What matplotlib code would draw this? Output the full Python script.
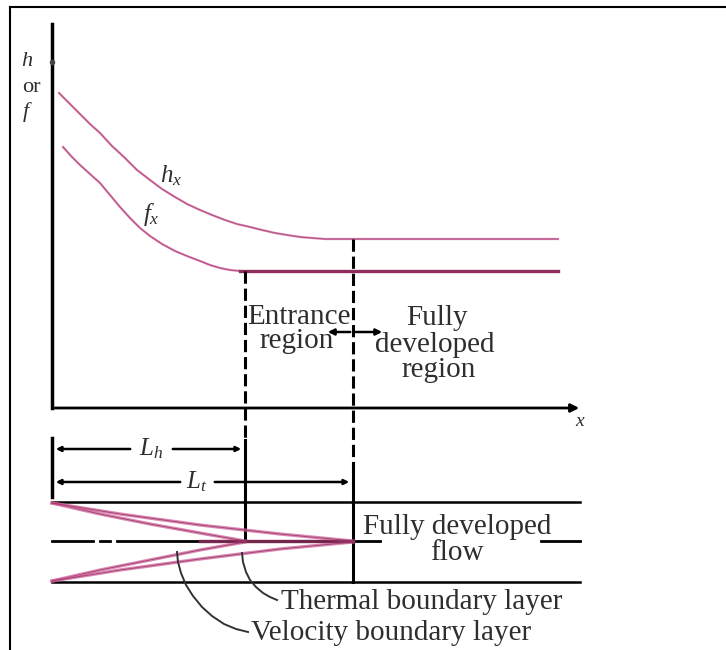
import matplotlib
matplotlib.use("Agg")
import matplotlib.pyplot as plt

plt.rcParams['font.family'] = ['Liberation Serif', 'DejaVu Serif']
plt.rcParams['mathtext.fontset'] = 'custom'
plt.rcParams['mathtext.rm'] = 'Liberation Serif'
plt.rcParams['mathtext.it'] = 'Liberation Serif:italic'

# ---- data (pixel-like diagram units) ----
hx_x = [59, 70, 80, 90, 100, 112, 125, 137, 150, 162, 175, 187, 200, 212, 225,
        237, 250, 262, 275, 287, 300, 312, 325, 558]
hx_y = [93, 104, 114, 124, 133, 146, 158, 170, 180, 189, 197, 204, 210, 215, 220,
        224, 227, 230, 233, 235, 237, 238, 239, 239]
fx_x = [63, 72, 80, 90, 100, 110, 120, 130, 140, 150, 162, 175, 187, 200, 210,
        220, 230, 240]
fx_y = [147, 157, 165, 174, 183, 195, 207, 218, 228, 236, 244, 251, 256, 261, 265,
        268, 270, 271]
fx_flat_x = [240, 558]
fx_flat_y = [271, 271]

L_h = 245          # hydrodynamic entry length position
L_t = 353          # thermal entry length position
x0 = 52            # origin x
x_end = 580
axis_y = 408
wall_top = 502
wall_bot = 582
center = 541

# boundary layer edges (velocity reaches center at L_h, thermal at L_t)
vel_top_x = [52, 100, 150, 200, 245]
vel_top_y = [503, 514, 524, 533, 541]
th_top_x = [52, 120, 200, 280, 353]
th_top_y = [503, 514, 525, 534, 541]
vel_bot_x = [52, 100, 150, 200, 245]
vel_bot_y = [581, 570, 560, 550, 542]
th_bot_x = [52, 120, 200, 280, 353]
th_bot_y = [581, 570, 559, 549, 542]

th_lead_x = [242, 243, 246, 250, 256, 263, 270, 277]
th_lead_y = [553, 562, 572, 580, 587, 593, 597, 600]
vel_lead_x = [177, 178, 181, 186, 193, 202, 212, 224, 236, 248]
vel_lead_y = [552, 562, 573, 585, 596, 607, 616, 624, 629, 632]

fig = plt.figure(figsize=(7.26, 6.5), dpi=100)
ax = fig.add_axes([0, 0, 1, 1])
ax.set_xlim(0, 726)
ax.set_ylim(650, 0)
ax.axis('off')

k = 'black'
pink = '#d0609a'
dark = '#8e2d5c'
txt = '#2e2e2e'

# frame
ax.plot([10, 10], [7, 650], color=k, lw=1.5)
ax.plot([10, 726], [7, 7], color=k, lw=1.5)

# axes
ax.plot([x0, x0], [24, axis_y], color=k, lw=2.5)
ax.annotate('', xy=(x_end + 2, axis_y), xytext=(x0, axis_y),
            arrowprops=dict(arrowstyle='-|>', color=k, lw=2, mutation_scale=12))
ax.plot([x0], [62], marker='o', ms=3, color='#444444')
ax.text(27, 62, r'$h$', fontsize=16, color=txt, ha='center', va='center')
ax.text(31, 87, 'or', fontsize=16, color=txt, ha='center', va='center')
ax.text(27, 112, r'$f$', fontsize=16, color=txt, ha='center', va='center')
ax.text(580, 422, r'$x$', fontsize=14, color=txt, ha='center', va='center')

# curves
ax.plot(hx_x, hx_y, color=pink, lw=1.6, alpha=0.8)
ax.plot(hx_x, hx_y, color=dark, lw=0.6, alpha=0.6)
ax.plot(fx_x, fx_y, color=pink, lw=1.6, alpha=0.8)
ax.plot(fx_x, fx_y, color=dark, lw=0.6, alpha=0.6)
ax.plot(fx_flat_x, fx_flat_y, color=dark, lw=2.4)
ax.text(160, 176, r'$h_x$', fontsize=18, color=txt, ha='left', va='center')
ax.text(143, 214, r'$f_x$', fontsize=18, color=txt, ha='left', va='center')

# vertical dashed/solid lines
dash = (0, (4, 1.6))
ax.plot([L_h, L_h], [fx_flat_y[0], 440], color=k, lw=2.2, linestyle=dash)
ax.plot([L_h, L_h], [440, center], color=k, lw=2.2)
ax.plot([L_t, L_t], [hx_y[-1], 470], color=k, lw=2.2, linestyle=dash)
ax.plot([L_t, L_t], [470, wall_bot], color=k, lw=2.2)

# region texts
fs = 21
ax.text(299, 317, 'Entrance', fontsize=fs, color=txt, ha='center', va='center')
ax.text(297, 341, 'region', fontsize=fs, color=txt, ha='center', va='center')
ax.text(437, 318, 'Fully', fontsize=fs, color=txt, ha='center', va='center')
ax.text(435, 345, 'developed', fontsize=fs, color=txt, ha='center', va='center')
ax.text(439, 370, 'region', fontsize=fs, color=txt, ha='center', va='center')
ax.annotate('', xy=(385, 332), xytext=(L_t, 332),
            arrowprops=dict(arrowstyle='-|>', color=k, lw=1.8, mutation_scale=9))
ax.annotate('', xy=(325, 332), xytext=(L_t, 332),
            arrowprops=dict(arrowstyle='-|>', color=k, lw=1.8, mutation_scale=9))

# dimension lines
ax.plot([x0, x0], [438, 497], color=k, lw=2.5)
ax.annotate('', xy=(x0 + 1, 449), xytext=(133, 449),
            arrowprops=dict(arrowstyle='-|>', color=k, lw=1.8, mutation_scale=7))
ax.annotate('', xy=(L_h - 1, 449), xytext=(170, 449),
            arrowprops=dict(arrowstyle='-|>', color=k, lw=1.8, mutation_scale=7))
ax.text(151, 449, r'$L_h$', fontsize=18, color=txt, ha='center', va='center')
ax.annotate('', xy=(x0 + 1, 482), xytext=(183, 482),
            arrowprops=dict(arrowstyle='-|>', color=k, lw=1.8, mutation_scale=7))
ax.annotate('', xy=(L_t - 1, 482), xytext=(212, 482),
            arrowprops=dict(arrowstyle='-|>', color=k, lw=1.8, mutation_scale=7))
ax.text(197, 482, r'$L_t$', fontsize=18, color=txt, ha='center', va='center')

# tube walls and centerline
ax.plot([x0, x_end], [wall_top, wall_top], color=k, lw=1.8)
ax.plot([x0, x_end], [wall_bot, wall_bot], color=k, lw=1.8)
ax.plot([x0, 93], [center, center], color=k, lw=2)
ax.plot([100, 110], [center, center], color=k, lw=2)
ax.plot([117, 380], [center, center], color=k, lw=2)
ax.plot([541, x_end], [center, center], color=k, lw=2)

# boundary layers
for xs, ys in [(vel_top_x, vel_top_y), (th_top_x, th_top_y),
               (vel_bot_x, vel_bot_y), (th_bot_x, th_bot_y)]:
    ax.plot(xs, ys, color=pink, lw=2.4, alpha=0.75)
    ax.plot(xs, ys, color=dark, lw=0.7, alpha=0.7)
ax.plot([200, L_t], [center, center], color=dark, lw=2.5, alpha=0.8)

ax.text(457, 527, 'Fully developed', fontsize=fs, color=txt, ha='center', va='center')
ax.text(457, 553, 'flow', fontsize=fs, color=txt, ha='center', va='center')

# leaders
ax.plot(th_lead_x, th_lead_y, color='#333333', lw=1.4)
ax.plot(vel_lead_x, vel_lead_y, color='#333333', lw=1.4)
ax.text(281, 602, 'Thermal boundary layer', fontsize=fs, color=txt, ha='left', va='center')
ax.text(251, 633, 'Velocity boundary layer', fontsize=fs, color=txt, ha='left', va='center')

fig.savefig('out.png', dpi=100)
